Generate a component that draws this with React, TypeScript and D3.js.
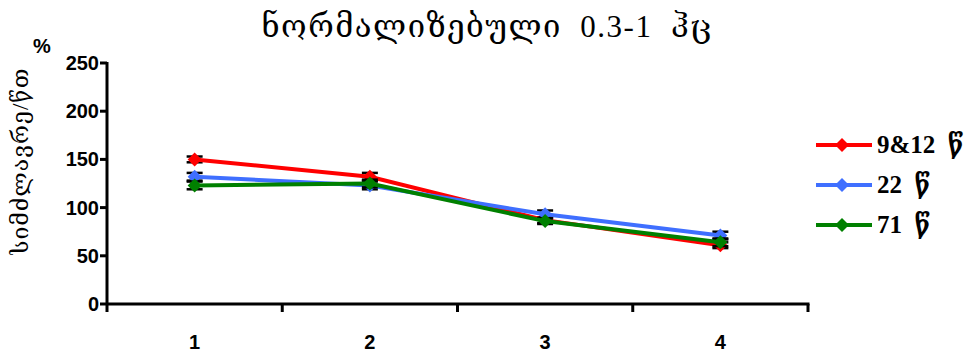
import React from "react";
import * as d3 from "d3";

const categories = ["1", "2", "3", "4"];
const seriesNames = ["9&12  წ", "22  წ", "71  წ"];
const seriesColors = ["#ff0000", "#3f6fff", "#008000"];
const red = [150, 132, 87, 61];
const blue = [132, 123, 93, 71];
const green = [123, 125, 86, 64];
const redErr = [3, 4, 3, 3];
const blueErr = [4, 4, 4, 4];
const greenErr = [4, 4, 3, 4];
const yTicks = [0, 50, 100, 150, 200, 250];
const title = "ნორმალიზებული  0.3-1  ჰც";
const yLabel = "სიმძლავრე/წთ";

export default function App() {
  const W = 970, H = 356;
  const x0 = 107, x1 = 808, y0 = 304, y1 = 63;
  const x = d3.scaleBand<string>().domain(categories).range([x0, x1]);
  const y = d3.scaleLinear().domain([0, 250]).range([y0, y1]);
  const series = [
    { name: seriesNames[0], color: seriesColors[0], vals: red, err: redErr },
    { name: seriesNames[1], color: seriesColors[1], vals: blue, err: blueErr },
    { name: seriesNames[2], color: seriesColors[2], vals: green, err: greenErr },
  ];
  const line = d3
    .line<number>()
    .x((_, i) => (x(categories[i]) as number) + x.bandwidth() / 2)
    .y((v) => y(v));
  const diamond = (cx: number, cy: number, r: number) =>
    `M${cx},${cy - r}L${cx + r},${cy}L${cx},${cy + r}L${cx - r},${cy}Z`;
  const boundaries = [...categories.map((c) => x(c) as number), x1];
  const sans = "Liberation Sans, Arial, sans-serif";
  const serif = "Liberation Serif, DejaVu Serif, serif";
  return (
    <svg width={W} height={H} style={{ position: "absolute", left: 0, top: 0, background: "#fff" }}>
      <rect width={W} height={H} fill="#fff" />
      <text x={487} y={37} textAnchor="middle" fontFamily={serif} fontSize={31} letterSpacing={1.5} fill="#000" xmlSpace="preserve">
        {title}
      </text>
      {/* y axis */}
      <line x1={x0} x2={x0} y1={y1 - 1} y2={y0 + 1} stroke="#000" strokeWidth={3} />
      {yTicks.map((t) => (
        <g key={t}>
          <line x1={x0 - 7} x2={x0} y1={y(t)} y2={y(t)} stroke="#000" strokeWidth={3} />
          <text x={x0 - 8} y={y(t) + 7} textAnchor="end" fontFamily={sans} fontWeight="bold" fontSize={20}>
            {t}
          </text>
        </g>
      ))}
      {/* x axis */}
      <line x1={x0} x2={x1 + 1.5} y1={y0} y2={y0} stroke="#000" strokeWidth={3} />
      {boundaries.map((b, i) => (
        <line key={i} x1={b} x2={b} y1={y0} y2={y0 + 8} stroke="#000" strokeWidth={3} />
      ))}
      {categories.map((c) => (
        <text key={c} x={(x(c) as number) + x.bandwidth() / 2} y={y0 + 45} textAnchor="middle" fontFamily={sans} fontWeight="bold" fontSize={20}>
          {c}
        </text>
      ))}
      <text x={42} y={53} textAnchor="middle" fontFamily={sans} fontWeight="bold" fontSize={20}>
        %
      </text>
      <text transform={`translate(28,161) rotate(-90)`} textAnchor="middle" fontFamily={serif} fontSize={23} letterSpacing={1}>
        {yLabel}
      </text>
      {/* series */}
      {series.map((s) => (
        <g key={s.name}>
          {s.vals.map((v, i) => {
            const cx = (x(categories[i]) as number) + x.bandwidth() / 2;
            return (
              <g key={i}>
                <line x1={cx} x2={cx} y1={y(v + s.err[i])} y2={y(v - s.err[i])} stroke="#000" strokeWidth={2} />
                <line x1={cx - 8} x2={cx + 8} y1={y(v + s.err[i])} y2={y(v + s.err[i])} stroke="#000" strokeWidth={2.5} />
                <line x1={cx - 8} x2={cx + 8} y1={y(v - s.err[i])} y2={y(v - s.err[i])} stroke="#000" strokeWidth={2.5} />
              </g>
            );
          })}
          <path d={line(s.vals) || ""} fill="none" stroke={s.color} strokeWidth={4} />
          {s.vals.map((v, i) => {
            const cx = (x(categories[i]) as number) + x.bandwidth() / 2;
            return <path key={i} d={diamond(cx, y(v), 7)} fill={s.color} />;
          })}
        </g>
      ))}
      {/* legend */}
      {series.map((s, i) => {
        const ly = 145 + i * 40;
        return (
          <g key={s.name}>
            <line x1={816} x2={872} y1={ly} y2={ly} stroke={s.color} strokeWidth={4} />
            <path d={diamond(842, ly, 7)} fill={s.color} />
            <text x={877} y={ly + 8} fontFamily={serif} fontWeight="bold" fontSize={25} xmlSpace="preserve">
              {s.name}
            </text>
          </g>
        );
      })}
    </svg>
  );
}
